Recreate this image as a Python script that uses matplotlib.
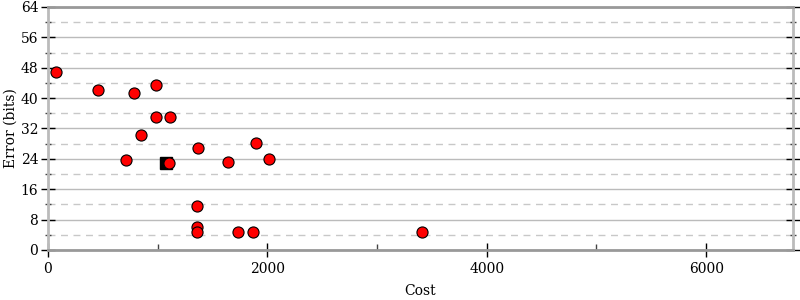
import matplotlib
matplotlib.use("Agg")
import matplotlib.pyplot as plt
from matplotlib.ticker import MultipleLocator

cost = [73, 457, 785, 986, 986, 1114, 849, 712, 1105, 1370, 1644, 1900, 2018,
        1361, 1361, 1361, 1735, 1872, 3406]
error = [46.9, 42.1, 41.3, 43.5, 35.0, 35.0, 30.3, 23.7, 22.9, 26.9, 23.2, 28.2, 24.0,
         11.6, 6.1, 4.7, 4.7, 4.7, 4.7]
ref_cost = [1078]
ref_error = [22.9]

plt.rcParams['font.family'] = ['DejaVu Serif']
fig = plt.figure(figsize=(8, 3), dpi=100)
ax = fig.add_axes([0.06, 0.1667, 0.931, 0.81])

ax.set_xlim(0, 6790)
ax.set_ylim(0, 64)
ax.xaxis.set_major_locator(MultipleLocator(2000))
ax.xaxis.set_minor_locator(MultipleLocator(1000))
ax.yaxis.set_major_locator(MultipleLocator(8))
ax.yaxis.set_minor_locator(MultipleLocator(4))

ax.grid(which='major', axis='y', color='#bbbbbb', linewidth=1, linestyle='-')
ax.grid(which='minor', axis='y', color='#c8c8c8', linewidth=1, linestyle=(0, (5, 4)))
ax.set_axisbelow(True)

ax.plot(ref_cost, ref_error, linestyle='none', marker='s', markersize=9,
        color='black', zorder=3)
ax.plot(cost, error, linestyle='none', marker='o', markersize=8,
        markerfacecolor='red', markeredgecolor='black', markeredgewidth=0.8, zorder=4)

for s in ['left', 'right']:
    ax.spines[s].set_color('#bbbbbb')
    ax.spines[s].set_linewidth(2)
for s in ['top', 'bottom']:
    ax.spines[s].set_color('#999999')
    ax.spines[s].set_linewidth(2)

ax.tick_params(axis='y', which='major', direction='inout', length=10, width=1,
               color='black', labelsize=10, left=True, right=True, pad=2)
ax.tick_params(axis='y', which='minor', direction='inout', length=5, width=1,
               color='#444444', left=True, right=True)
ax.tick_params(axis='x', which='major', direction='inout', length=10, width=1,
               color='black', labelsize=10)
ax.tick_params(axis='x', which='minor', direction='in', length=4, width=1,
               color='#444444')

ax.set_xlabel('Cost', fontsize=10, labelpad=6)
ax.set_ylabel('Error (bits)', fontsize=10, labelpad=2)

fig.savefig('out.png', dpi=100)
